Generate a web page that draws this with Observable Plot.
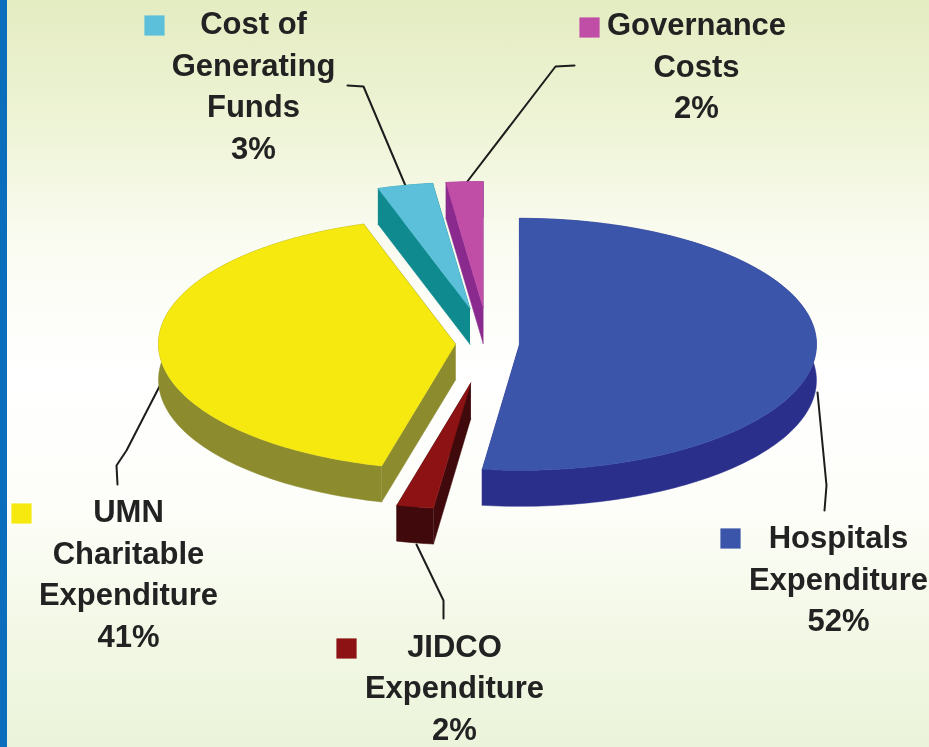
<!DOCTYPE html>
<html>
<head>
<meta charset="utf-8">
<script src="https://cdn.jsdelivr.net/npm/d3@7"></script>
<script src="https://cdn.jsdelivr.net/npm/@observablehq/plot@0.6"></script>
<style>
  html, body { margin: 0; padding: 0; width: 929px; height: 747px; overflow: hidden; }
  body {
    background: linear-gradient(180deg, #e4ecc2 0%, #eef4d6 17%, #fafcf2 33%, #ffffff 50%, #fdfef9 68%, #f3f8e6 84%, #ebf4da 100%);
    position: relative;
  }
  #bar { position: absolute; left: 0; top: 0; width: 7px; height: 747px; background: #0a6ebd; }
  #chart { position: absolute; left: 0; top: 0; }
  #chart svg { display: block; background: transparent; filter: blur(0.6px); }
</style>
</head>
<body>
<div id="bar"></div>
<div id="chart"></div>
<script>
// Chart values, clockwise from 12 o'clock
const categories = ["Hospitals Expenditure", "JIDCO Expenditure", "UMN Charitable Expenditure", "Cost of Generating Funds", "Governance Costs"];
const shares = [52, 2, 41, 3, 2];
const labelLines = [
  "Hospitals\nExpenditure\n52%",
  "JIDCO\nExpenditure\n2%",
  "UMN\nCharitable\nExpenditure\n41%",
  "Cost of\nGenerating\nFunds\n3%",
  "Governance\nCosts\n2%"
];
const topColors = ["#3a55a9", "#8d1213", "#f5e910", "#5cc0da", "#c04ea6"];
const sideColors = ["#2a2f8c", "#400a0c", "#8c8b2e", "#0f8a8e", "#8a2a8e"];

// Layout of the tilted, exploded pie
const pie = {cx: 488, cy: 343, rx: 297, ry: 126, depth: 36};
const explode = [31, 95, 33, 85, 85];
const labelAnchors = [[838, 518], [454, 626.5], [128, 492], [253, 4], [696, 5]];
const swatchAnchors = [[730, 538], [346, 648], [21, 513], [154, 25], [589, 27]];
const leaders = [
  [[817, 392], [826, 485], [824, 510]],
  [[416, 544], [443, 600], [443, 618]],
  [[161, 382], [126, 450], [116, 465], [117, 484]],
  [[407, 190], [363, 86], [347, 85]],
  [[463, 186], [555, 66], [574, 65]]
];

// Turn the shares into faces
const total = d3.sum(shares);
const toAngle = d3.scaleLinear().domain([0, total]).range([0, 2 * Math.PI]);
const cumulative = d3.cumsum(shares);
const k = pie.ry / pie.rx;
const faces = [];
function addFace(key, color, pts) {
  pts.forEach(([x, y]) => faces.push({key, color, x, y}));
}
categories.forEach((name, i) => {
  const a0 = toAngle(cumulative[i] - shares[i]);
  const a1 = toAngle(cumulative[i]);
  const mid = (a0 + a1) / 2;
  const ox = pie.cx + explode[i] * Math.sin(mid);
  const oy = pie.cy - explode[i] * k * Math.cos(mid);
  const n = Math.max(2, Math.ceil((a1 - a0) / 0.02));
  const rim = d3.range(n + 1).map(j => {
    const a = a0 + (a1 - a0) * j / n;
    return [ox + pie.rx * Math.sin(a), oy - pie.ry * Math.cos(a), a];
  });
  const down = ([x, y]) => [x, y + pie.depth];
  const first = rim[0], last = rim[n];
  // radial walls
  addFace(name + " wall a", sideColors[i], [[ox, oy], first, down(first), [ox, oy + pie.depth]]);
  addFace(name + " wall b", sideColors[i], [[ox, oy], last, down(last), [ox, oy + pie.depth]]);
  // outer wall
  addFace(name + " rim", sideColors[i], [...rim, ...rim.slice().reverse().map(down)]);
  // top
  addFace(name + " top", topColors[i], [[ox, oy], ...rim]);
});

const leaderRows = leaders.flatMap((pts, i) => pts.map(([x, y]) => ({i, x, y})));
const labels = categories.map((name, i) => ({
  text: labelLines[i], x: labelAnchors[i][0], y: labelAnchors[i][1]
}));
const swatches = categories.map((name, i) => ({
  x: swatchAnchors[i][0], y: swatchAnchors[i][1], color: topColors[i]
}));

const chart = Plot.plot({
  width: 929,
  height: 747,
  margin: 0,
  style: {background: "transparent"},
  x: {domain: [0, 929], range: [0, 929], axis: null},
  y: {domain: [0, 747], range: [0, 747], axis: null},
  color: {type: "identity"},
  marks: [
    Plot.line(leaderRows, {x: "x", y: "y", z: "i", stroke: "#1c1c1c", strokeWidth: 2, curve: "linear"}),
    Plot.line(faces, {x: "x", y: "y", z: "key", fill: "color", stroke: "color", strokeWidth: 0.5, curve: "linear"}),
    Plot.dot(swatches, {x: "x", y: "y", symbol: "square", r: 11.4, fill: "color", stroke: "none"}),
    Plot.text(labels, {
      x: "x", y: "y", text: "text", textAnchor: "middle", lineAnchor: "top",
      fontFamily: "Liberation Sans", fontWeight: "bold", fontSize: 31, lineHeight: 1.345,
      fill: "#222222"
    })
  ]
});
document.getElementById("chart").appendChild(chart);
</script>
</body>
</html>
